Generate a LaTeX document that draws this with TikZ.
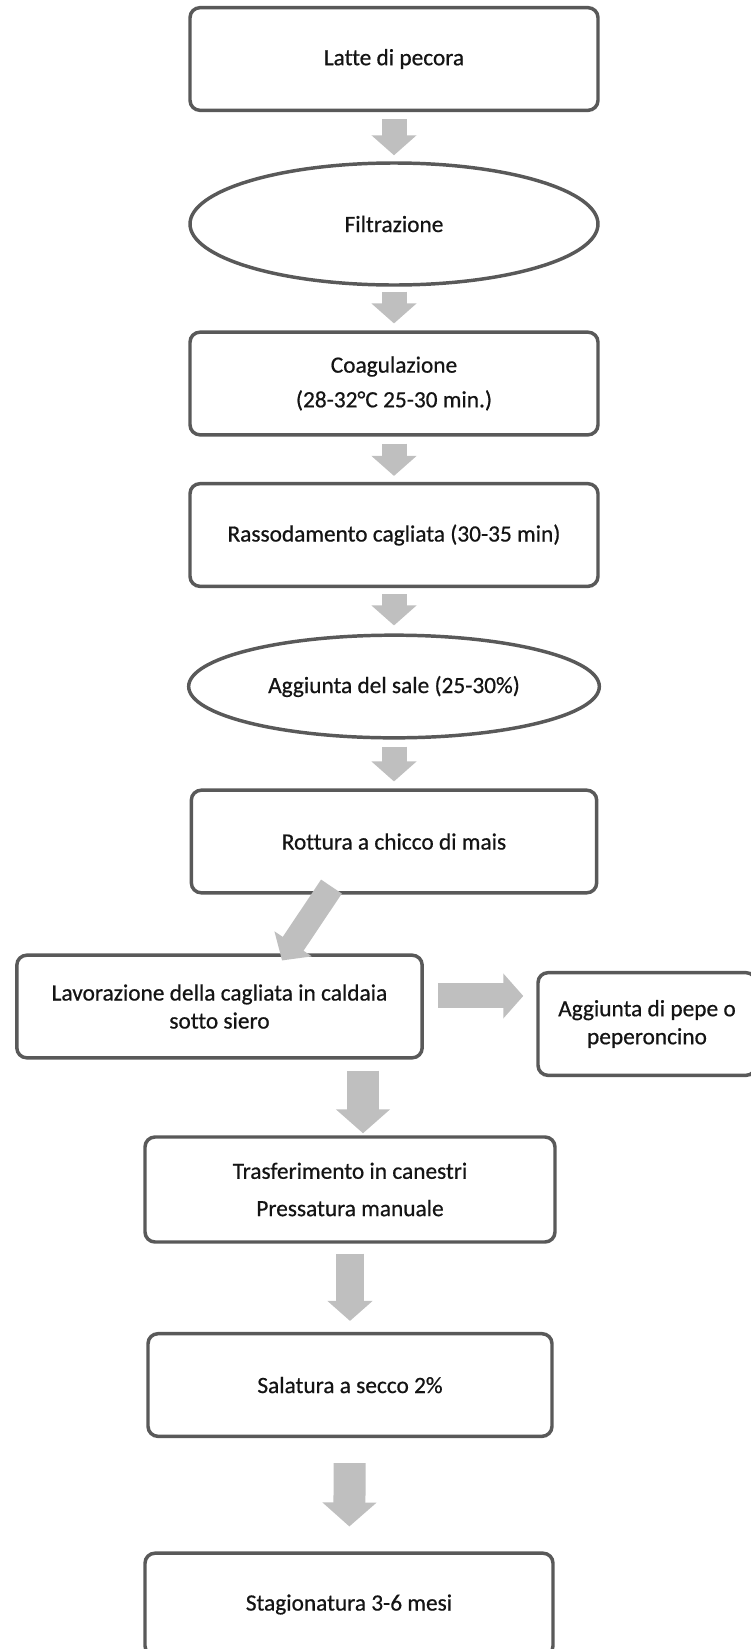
\documentclass[tikz,border=0pt]{standalone}
\usepackage{fontspec}
\setmainfont{Carlito}[Ligatures=NoCommon]
\usetikzlibrary{shapes.geometric,arrows.meta}

\definecolor{boxline}{RGB}{89,89,89}
\definecolor{arrowgrey}{RGB}{191,191,191}
\definecolor{steptext}{RGB}{20,20,20}

\tikzset{
	stepbox/.style={draw=boxline, line width=2.6pt, rounded corners=7.5pt, fill=white, text=steptext,
		minimum width=306pt, minimum height=77pt, inner sep=0pt, align=center,
		font=\fontsize{17.5pt}{21pt}\selectfont\addfontfeature{FakeBold=0.6}},
	stepoval/.style={stepbox, ellipse, sharp corners},
	blockarrow/.style={draw=arrowgrey, line width=18.75pt, -{Triangle[width=33pt,length=15pt]}},
	bigarrow/.style={blockarrow, line width=24pt, -{Triangle[width=39.75pt,length=18pt]}},
}

\begin{document}
\begin{tikzpicture}[x=0.75pt,y=0.75pt,yscale=-1,xscale=1]
	\useasboundingbox (0,0) rectangle (750,1649);
	
	%Steps
	\node[stepbox] (latte) at (394,59) {Latte di pecora};
	\node[stepoval, minimum height=91.5pt] (filtr) at (394,224) {Filtrazione};
	\node[stepbox] (coag) at (394,383.5) {Coagulazione\\[5pt](28-32°C 25-30 min.)};
	\node[stepbox] (rass) at (394,535) {Rassodamento cagliata (30-35 min)};
	\node[stepoval, minimum width=308pt] (sale) at (394,686.5) {Aggiunta del sale (25-30\%)};
	\node[stepbox, minimum width=304pt] (rott) at (394,841.5) {Rottura a chicco di mais};
	\node[stepbox, minimum width=304pt] (lav) at (219.5,1006.5) {Lavorazione della cagliata in caldaia\\sotto siero};
	\node[stepbox, minimum width=163.5pt] (pepe) at (647,1024) {Aggiunta di pepe o\\peperoncino};
	\node[stepbox, minimum width=307.5pt, minimum height=78.75pt] (tras) at (350,1189.5) {Trasferimento in canestri\\[7pt]Pressatura manuale};
	\node[stepbox, minimum width=303pt] (sal) at (350,1385) {Salatura a secco 2\%};
	\node[stepbox] (stag) at (349,1604.5) {Stagionatura 3-6 mesi};
	
	%Arrows
	\draw[blockarrow, shorten <=5.25pt, shorten >=4.5pt] (latte) -- (filtr);
	\draw[blockarrow, shorten <=3.75pt, shorten >=5.25pt] (filtr) -- (coag);
	\draw[blockarrow, shorten <=5.25pt, shorten >=4.5pt] (coag) -- (rass);
	\draw[blockarrow, shorten <=4.5pt, shorten >=6pt] (rass) -- (sale);
	\draw[blockarrow, shorten <=5.25pt, shorten >=5.25pt] (sale) -- (rott);
	\coordinate (rottout) at ([xshift=-46.9pt,yshift=-6pt]rott.south);
	\draw[blockarrow] (rottout) -- ([xshift=46.9pt,yshift=5.25pt]lav.north);
	\coordinate (lavout) at ([yshift=-7.9pt]lav.east);
	\draw[blockarrow, shorten <=10.5pt, shorten >=9.75pt] (lavout) -- (lavout -| pepe.west);
	\coordinate (lavdown) at ([xshift=9.75pt]tras.north |- lav.south);
	\draw[bigarrow, shorten <=8.25pt, shorten >=1.5pt] (lavdown) -- (lavdown |- tras.north);
	\draw[blockarrow, line width=21pt, shorten <=7.5pt, shorten >=8.25pt] (tras) -- (sal);
	\draw[bigarrow, shorten <=18.75pt, shorten >=18.75pt] (sal) -- (stag);
\end{tikzpicture}
\end{document}
